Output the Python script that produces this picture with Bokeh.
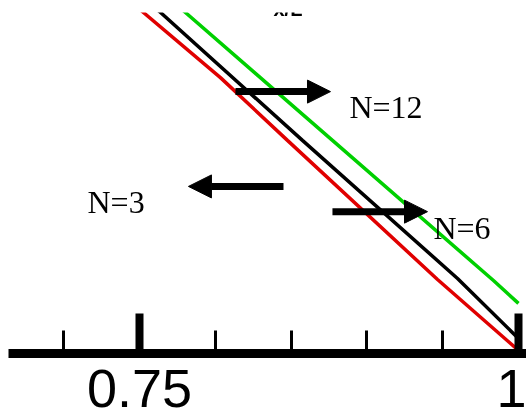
from bokeh.plotting import figure
from bokeh.models import Range1d, FixedTicker, Arrow, NormalHead, Label
from bokeh.embed import file_html
from bokeh.resources import INLINE

# Data (x/L vs. normalised quantity)
red_x = [0.7290, 0.7526, 0.8034, 0.8476, 0.9466, 1.0]
red_y = [1.094, 1.000, 0.809, 0.625, 0.217, 0.009]
black_x = [0.7400, 0.7639, 0.8575, 0.9598, 1.0]
black_y = [1.094, 1.000, 0.625, 0.220, 0.044]
green_x = [0.7570, 0.7803, 0.8773, 0.9835, 1.0]
green_y = [1.094, 1.000, 0.625, 0.214, 0.147]

major_ticks = [0.75, 1.0]
minor_ticks = [0.65, 0.70, 0.75, 0.80, 0.85, 0.90, 0.95, 1.0]

labels = ["N=12", "N=3", "N=6"]
label_x = [0.8885, 0.7157, 0.9439]
label_y = [0.724, 0.443, 0.3695]
arrow_x0 = [0.8133, 0.8450, 0.8773]
arrow_x1 = [0.8760, 0.7823, 0.9400]
arrow_y = [0.768, 0.490, 0.416]

p = figure(width=526, height=414, output_backend="svg", toolbar_location=None,
           x_range=Range1d(0.6636, 1.0053), y_range=Range1d(0, 1.0),
           min_border_left=8, min_border_right=0, min_border_top=12,
           min_border_bottom=61, y_axis_location=None)
p.styles = {"position": "fixed", "left": "0px", "top": "0px"}
p.outline_line_color = None
p.grid.visible = False
p.background_fill_color = "white"
p.border_fill_color = "white"

ax = p.xaxis[0]
ax.ticker = FixedTicker(ticks=major_ticks, minor_ticks=minor_ticks)
ax.axis_line_width = 9
ax.axis_line_color = "black"
ax.major_tick_in = 40
ax.major_tick_out = 0
ax.major_tick_line_width = 8
ax.minor_tick_in = 23
ax.minor_tick_out = 0
ax.minor_tick_line_width = 3
ax.major_label_text_font = "Liberation Sans"
ax.major_label_text_font_size = "54px"
ax.major_label_text_color = "black"
ax.major_label_standoff = 16
ax.major_label_overrides = {0.75: "0.75", 1.0: "1"}

p.line(red_x, red_y, line_color="#e00000", line_width=3.5)
p.line(black_x, black_y, line_color="black", line_width=3.5)
p.line(green_x, green_y, line_color="#00d000", line_width=3.5)

for x0, x1, y in zip(arrow_x0, arrow_x1, arrow_y):
    p.add_layout(Arrow(x_start=x0, y_start=y, x_end=x1, y_end=y, line_width=7,
                       line_color="black",
                       end=NormalHead(size=23, fill_color="black", line_color="black", line_width=1)))

for t, x, y in zip(labels, label_x, label_y):
    p.add_layout(Label(x=x, y=y, text=t, text_font="Liberation Serif",
                       text_font_size="32px", text_color="black",
                       text_baseline="alphabetic", text_align="left"))

p.add_layout(Label(x=0.8384, y=1.0117, text="x/L", text_font="Liberation Sans",
                   text_font_size="20px", text_font_style="bold", text_color="black",
                   text_baseline="alphabetic", text_align="left"))

open("out.html", "w").write(file_html(p, INLINE))
